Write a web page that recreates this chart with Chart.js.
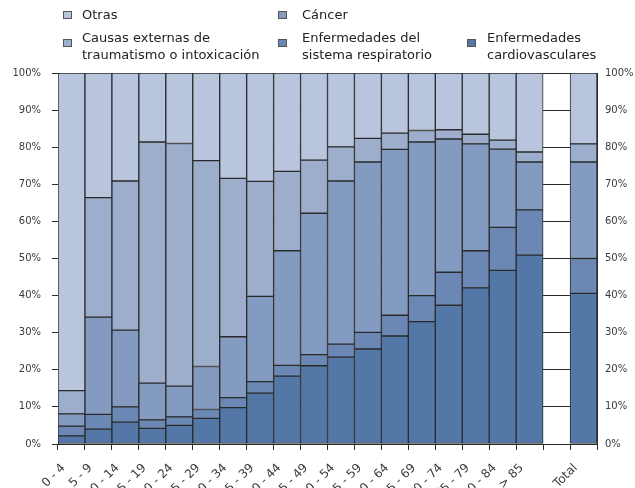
<!DOCTYPE html>
<html lang="es">
<head>
<meta charset="UTF-8">
<title>Causas de muerte por edad</title>
<script src="https://cdn.jsdelivr.net/npm/chart.js"></script>
<style>
    body { margin: 0; background: #fff; }
    .wrap { position: relative; width: 635px; height: 488px; overflow: hidden; }
    .leyenda { position: absolute; font-family: "DejaVu Sans", Verdana, sans-serif; font-size: 13px; color: #222; line-height: 17px; white-space: nowrap; }
    span.caja { position: absolute; width: 7px; height: 6px; border: 1px solid #555; }
</style>
</head>
<body>
<div class="wrap">
    <canvas id="grafico" width="635" height="488"></canvas>
    <div id="leyenda"></div>
</div>

<script>
// grupos de edad (columna vacia antes del total)
const edades = ['0 - 4', '5 - 9', '10 - 14', '15 - 19', '20 - 24', '25 - 29', '30 - 34', '35 - 39',
    '40 - 44', '45 - 49', '50 - 54', '55 - 59', '60 - 64', '65 - 69', '70 - 74', '75 - 79',
    '80 - 84', '> 85', '', 'Total'];

// porcentajes por causa, de abajo hacia arriba
const cardiovasculares = [2.2, 4.0, 5.9, 4.2, 5.0, 6.9, 9.8, 13.7, 18.3, 21.1, 23.4, 25.6, 29.1, 33.0, 37.4, 42.1, 46.8, 50.9, null, 40.6];
const respiratorio = [2.6, 4.0, 4.1, 2.3, 2.3, 2.4, 2.7, 3.1, 2.9, 3.0, 3.5, 4.5, 5.6, 7.0, 8.9, 10.0, 11.6, 12.2, null, 9.4];
const cancer = [3.3, 26.2, 20.7, 9.9, 8.3, 11.6, 16.4, 23.0, 30.9, 38.1, 44.0, 45.9, 44.7, 41.4, 35.9, 28.8, 21.1, 12.9, null, 26.0];
const externas = [6.3, 32.2, 40.2, 65.0, 65.4, 55.5, 42.7, 31.0, 21.4, 14.3, 9.2, 6.4, 4.4, 3.1, 2.5, 2.6, 2.4, 2.7, null, 4.9];
const otras = [85.6, 33.6, 29.1, 18.6, 19.0, 23.6, 28.4, 29.2, 26.5, 23.5, 19.9, 17.6, 16.2, 15.5, 15.3, 16.5, 18.1, 21.3, null, 19.1];

const ticksY = [0, 10, 20, 30, 40, 50, 60, 70, 80, 90, 100];

const colores = {
    otras: '#b9c4dd',
    externas: '#9daecc',
    cancer: '#839bc1',
    respiratorio: '#6b88b5',
    cardio: '#5377a7'
};

var linea = '#2a2a2a';
var textoEje = '#3a3a3a';

function serie(nombre, datos, color) {
    return {
        label: nombre,
        data: datos,
        backgroundColor: color,
        borderColor: linea,
        borderWidth: 1,
        borderSkipped: false,
        barPercentage: 1,
        categoryPercentage: 1
    };
}

const ctx = document.getElementById('grafico');

new Chart(ctx, {
    type: 'bar',
    data: {
        labels: edades,
        datasets: [
            serie('Enfermedades cardiovasculares', cardiovasculares, colores.cardio),
            serie('Enfermedades del sistema respiratorio', respiratorio, colores.respiratorio),
            serie('Cáncer', cancer, colores.cancer),
            serie('Causas externas de traumatismo o intoxicación', externas, colores.externas),
            serie('Otras', otras, colores.otras)
        ]
    },
    options: {
        responsive: false,
        animation: false,
        layout: { padding: { top: 73, left: 0, right: 0, bottom: 0 } },
        plugins: {
            legend: { display: false },
            tooltip: { enabled: false }
        },
        scales: {
            x: {
                stacked: true,
                grid: { offset: true, drawOnChartArea: false, color: linea, tickLength: 6 },
                border: { color: linea },
                ticks: {
                    autoSkip: false,
                    minRotation: 45,
                    maxRotation: 45,
                    padding: 11,
                    labelOffset: -8,
                    color: textoEje,
                    font: { family: 'DejaVu Sans', size: 12 }
                },
                afterFit: function (s) { s.height = 44; }
            },
            y: {
                stacked: true,
                min: 0,
                max: 100,
                afterBuildTicks: function (s) { s.ticks = ticksY.map(v => ({ value: v })); },
                grid: { color: linea, tickLength: 6 },
                border: { color: linea },
                ticks: {
                    padding: 11,
                    color: textoEje,
                    font: { family: 'DejaVu Sans', size: 10 },
                    callback: v => v + '%'
                },
                afterFit: function (s) { s.width = 58; }
            },
            y2: {
                position: 'right',
                min: 0,
                max: 100,
                afterBuildTicks: function (s) { s.ticks = ticksY.map(v => ({ value: v })); },
                grid: { drawOnChartArea: false, drawTicks: false },
                border: { color: linea },
                ticks: {
                    padding: 8,
                    color: textoEje,
                    font: { family: 'DejaVu Sans', size: 10 },
                    callback: v => v + '%'
                },
                afterFit: function (s) { s.width = 38; }
            }
        }
    }
});

// leyenda en html, con textos de dos lineas como el original
var itemsLeyenda = [
    { texto: ['Otras'], color: colores.otras, x: 63, tx: 82, y: 6, cy: 11 },
    { texto: ['Cáncer'], color: colores.cancer, x: 278, tx: 302, y: 6, cy: 11 },
    { texto: ['Causas externas de', 'traumatismo o intoxicación'], color: colores.externas, x: 63, tx: 82, y: 29, cy: 39 },
    { texto: ['Enfermedades del', 'sistema respiratorio'], color: colores.respiratorio, x: 278, tx: 302, y: 29, cy: 39 },
    { texto: ['Enfermedades', 'cardiovasculares'], color: colores.cardio, x: 467, tx: 487, y: 29, cy: 39 }
];

var cont = document.getElementById('leyenda');
itemsLeyenda.forEach(function (it) {
    var caja = document.createElement('span');
    caja.className = 'caja';
    caja.style.left = it.x + 'px';
    caja.style.top = it.cy + 'px';
    caja.style.background = it.color;
    cont.appendChild(caja);

    var d = document.createElement('div');
    d.className = 'leyenda';
    d.style.left = it.tx + 'px';
    d.style.top = it.y + 'px';
    d.innerHTML = it.texto.join('<br>');
    cont.appendChild(d);
});
</script>
</body>
</html>
